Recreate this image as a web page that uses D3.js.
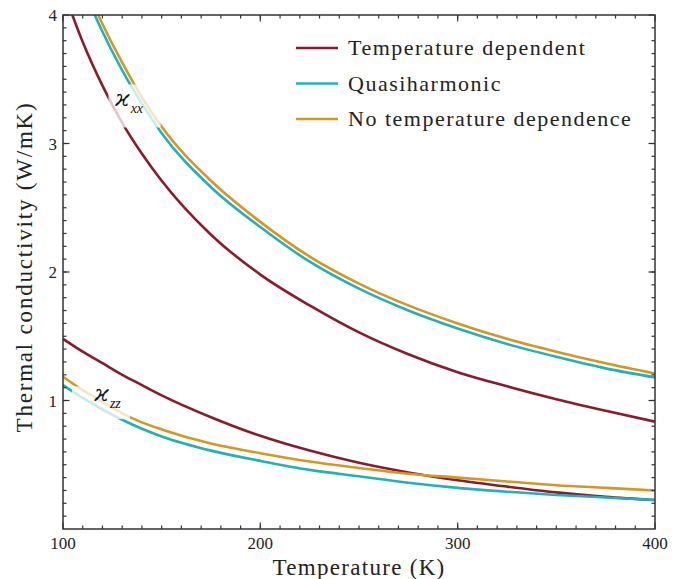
<!DOCTYPE html>
<html>
<head>
<meta charset="utf-8">
<script src="https://cdn.jsdelivr.net/npm/d3@7"></script>
<style>
  body { margin: 0; background: #fff; }
</style>
</head>
<body>
<svg width="682" height="579"></svg>
<script>
// temperatures (K) the curves were read at
var temps = [100, 110, 120, 130, 140, 150, 175, 200, 225, 250, 275, 300, 325, 350, 375, 400];

// kappa_xx
var xxTempDep = [4.20, 3.79, 3.45, 3.16, 2.92, 2.71, 2.29, 1.98, 1.74, 1.53, 1.36, 1.22, 1.11, 1.01, 0.92, 0.835];
var xxQuasi   = [4.64, 4.22, 3.87, 3.57, 3.31, 3.08, 2.66, 2.35, 2.08, 1.87, 1.70, 1.56, 1.44, 1.34, 1.25, 1.18];
var xxNoTemp  = [4.70, 4.28, 3.93, 3.63, 3.36, 3.13, 2.71, 2.39, 2.12, 1.91, 1.74, 1.60, 1.48, 1.38, 1.29, 1.21];

// kappa_zz
var zzTempDep = [1.48, 1.38, 1.29, 1.20, 1.12, 1.04, 0.87, 0.725, 0.61, 0.515, 0.44, 0.38, 0.33, 0.285, 0.25, 0.226];
var zzQuasi   = [1.12, 1.02, 0.93, 0.85, 0.78, 0.72, 0.61, 0.53, 0.46, 0.41, 0.36, 0.32, 0.29, 0.265, 0.245, 0.226];
var zzNoTemp  = [1.185, 1.08, 0.99, 0.90, 0.83, 0.775, 0.665, 0.59, 0.525, 0.475, 0.43, 0.40, 0.37, 0.34, 0.32, 0.30];

var seriesNames = ['Temperature dependent', 'Quasiharmonic', 'No temperature dependence'];
var seriesColors = ['#8b1a2e', '#1fb2bd', '#d8961f'];

var xTicks = [100, 200, 300, 400];
var yTicks = [1, 2, 3, 4];

var serif = '"Liberation Serif", "Times New Roman", "DejaVu Serif", serif';

var svg = d3.select('svg')
    .attr('font-family', serif)
    .style('font-family', serif);
var padding = {t: 15, r: 27, b: 50, l: 63};
var width = 682 - padding.l - padding.r;
var height = 579 - padding.t - padding.b;

var x = d3.scaleLinear().domain([100, 400]).range([0, width]);
var y = d3.scaleLinear().domain([0, 4]).range([height, 0]);

var g = svg.append('g')
    .attr('transform', 'translate(' + [padding.l, padding.t] + ')');

g.append('clipPath').attr('id', 'clip')
  .append('rect').attr('width', width).attr('height', height);

var line = d3.line()
    .x(function(d) { return x(d[0]); })
    .y(function(d) { return y(d[1]); })
    .curve(d3.curveMonotoneX);

var curves = [
    {vals: xxTempDep, c: 0}, {vals: xxQuasi, c: 1}, {vals: xxNoTemp, c: 2},
    {vals: zzTempDep, c: 0}, {vals: zzQuasi, c: 1}, {vals: zzNoTemp, c: 2}
];

var plot = g.append('g').attr('clip-path', 'url(#clip)');
plot.selectAll('.curve')
    .data(curves)
    .enter()
    .append('path')
    .attr('class', 'curve')
    .attr('fill', 'none')
    .attr('stroke', function(d) { return seriesColors[d.c]; })
    .attr('stroke-width', 2.6)
    .attr('d', function(d) {
        return line(temps.map(function(t, i) { return [t, d.vals[i]]; }));
    });

// curve labels with a faded box behind them
function curveLabel(tx, ty, box, sub) {
    plot.append('rect')
        .attr('x', x(box[0])).attr('y', y(box[3]))
        .attr('width', x(box[1]) - x(box[0]))
        .attr('height', y(box[2]) - y(box[3]))
        .attr('fill', '#fff').attr('opacity', 0.75);
    var t = g.append('text')
        .attr('x', x(tx)).attr('y', y(ty))
        .style('font-family', '"DejaVu Serif", serif')
        .style('font-style', 'italic')
        .style('font-size', '23px')
        .style('fill', '#111');
    t.append('tspan').text('ϰ');
    t.append('tspan').attr('dx', 1).attr('dy', 7)
        .style('font-size', '14px')
        .style('font-family', serif)
        .text(sub);
}
curveLabel(126.5, 3.29, [123, 149.5, 3.125, 3.46], 'xx');
curveLabel(116, 0.995, [104.5, 134, 0.855, 1.11], 'zz');

// frame
g.append('rect')
    .attr('width', width).attr('height', height)
    .attr('fill', 'none').attr('stroke', '#333').attr('stroke-width', 1.5);

// ticks on all four sides, pointing inward
var xMinor = d3.range(110, 400, 10);
var yMinor = d3.range(1, 40).map(function(v) { return v / 10; });

function tickSet(vals, len, isX) {
    vals.forEach(function(v) {
        if (isX) {
            g.append('line').attr('x1', x(v)).attr('x2', x(v)).attr('y1', height).attr('y2', height - len)
                .attr('stroke', '#333').attr('stroke-width', 1.2);
            g.append('line').attr('x1', x(v)).attr('x2', x(v)).attr('y1', 0).attr('y2', len)
                .attr('stroke', '#333').attr('stroke-width', 1.2);
        } else {
            g.append('line').attr('y1', y(v)).attr('y2', y(v)).attr('x1', 0).attr('x2', len)
                .attr('stroke', '#333').attr('stroke-width', 1.2);
            g.append('line').attr('y1', y(v)).attr('y2', y(v)).attr('x1', width).attr('x2', width - len)
                .attr('stroke', '#333').attr('stroke-width', 1.2);
        }
    });
}
tickSet(xMinor, 3.5, true);
tickSet(yMinor, 3.5, false);
tickSet(xTicks, 6.5, true);
tickSet(yTicks, 6.5, false);

g.selectAll('.xlab')
    .data(xTicks)
    .enter()
    .append('text')
    .attr('class', 'xlab')
    .attr('x', function(d) { return x(d); })
    .attr('y', height + 20)
    .attr('text-anchor', 'middle')
    .attr('fill', '#222')
    .style('font-size', '17px')
    .text(function(d) { return d; });

g.selectAll('.ylab')
    .data(yTicks)
    .enter()
    .append('text')
    .attr('class', 'ylab')
    .attr('x', -6)
    .attr('y', function(d) { return y(d) + 6; })
    .attr('text-anchor', 'end')
    .attr('fill', '#222')
    .style('font-size', '17px')
    .text(function(d) { return d; });

// axis titles
svg.append('text')
    .attr('x', padding.l + width / 2)
    .attr('y', 575)
    .attr('text-anchor', 'middle')
    .attr('fill', '#222')
    .style('font-size', '23px')
    .style('letter-spacing', '1.3px')
    .text('Temperature (K)');

svg.append('text')
    .attr('transform', 'translate(32,' + (padding.t + height / 2 - 5) + ') rotate(-90)')
    .attr('text-anchor', 'middle')
    .attr('fill', '#222')
    .style('font-size', '23px')
    .style('letter-spacing', '1.8px')
    .text('Thermal conductivity (W/mK)');

// legend
var legend = svg.append('g')
    .attr('transform', 'translate(296,48)');
var items = legend.selectAll('.item')
    .data(seriesNames)
    .enter()
    .append('g')
    .attr('class', 'item')
    .attr('transform', function(d, i) { return 'translate(0,' + (i * 35.5) + ')'; });
items.append('line')
    .attr('x1', 0).attr('x2', 42)
    .attr('stroke', function(d, i) { return seriesColors[i]; })
    .attr('stroke-width', 2.6);
items.append('text')
    .attr('x', 52).attr('y', 7)
    .attr('fill', '#222')
    .style('font-size', '22px')
    .style('letter-spacing', '1.5px')
    .text(function(d) { return d; });
</script>
</body>
</html>
